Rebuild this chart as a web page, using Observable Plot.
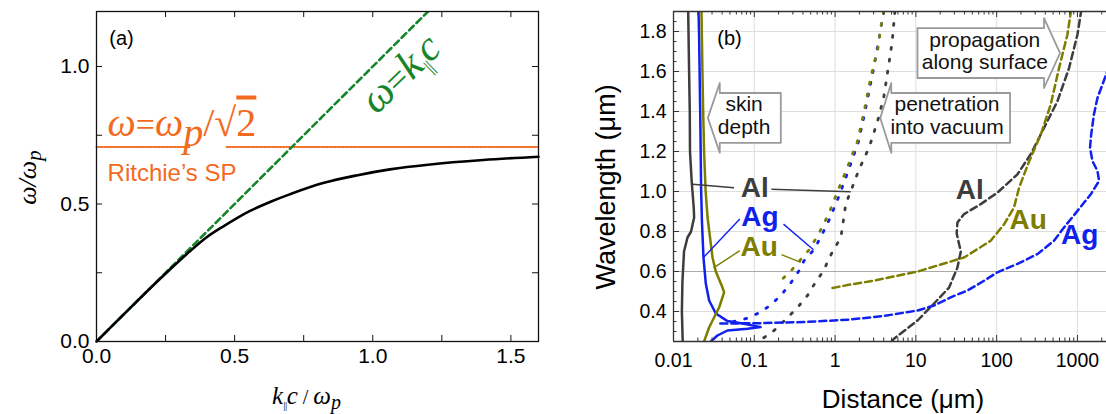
<!DOCTYPE html>
<html><head><meta charset="utf-8">
<script src="https://cdn.jsdelivr.net/npm/d3@7"></script>
<script src="https://cdn.jsdelivr.net/npm/@observablehq/plot@0.6"></script>
<style>
html,body{margin:0;padding:0;background:#fff;}
#wrap{display:flex;width:1106px;height:414px;overflow:hidden;}
</style></head><body><div id="wrap"></div>
<script>
// ---------- Panel (a) data ----------
const kAxisLabels = [0, 0.5, 1.0, 1.5];
const wAxisLabels = [0, 0.5, 1.0];
const kTicks = [0, 0.25, 0.5, 0.75, 1.0, 1.25, 1.5];
const wTicks = [0, 0.25, 0.5, 0.75, 1.0];
const spK = [0, 0.1, 0.2, 0.264, 0.337, 0.40, 0.458, 0.554, 0.63, 0.699, 0.82, 0.941, 1.062, 1.2, 1.4, 1.6];
const spW = [0, 0.1, 0.199, 0.26, 0.327, 0.38, 0.418, 0.474, 0.508, 0.535, 0.576, 0.604, 0.626, 0.643, 0.66, 0.672];
const lightK = [0, 1.2];
const lightW = [0, 1.2];
const ritchieLevel = 0.7071;
const ritchieSegStart = [0, 0.471];
const ritchieSegEnd = [0.337, 1.6];

// ---------- Panel (b) data ----------
const distLabels = [0.01, 0.1, 1, 10, 100, 1000];
const wlLabels = [0.4, 0.6, 0.8, 1.0, 1.2, 1.4, 1.6, 1.8];
const wlMinor = [0.25,0.3,0.35,0.45,0.5,0.55,0.65,0.7,0.75,0.85,0.9,0.95,1.05,1.1,1.15,1.25,1.3,1.35,1.45,1.5,1.55,1.65,1.7,1.75,1.85,1.9];
const metals = ["Al", "Ag", "Au"];
const metalColors = ["#3d3d3d", "#1020ee", "#7d7d00"];

// skin depth (solid)
const alSkinX = [0.0152, 0.0156, 0.0159, 0.016, 0.0168, 0.0178, 0.018, 0.0165, 0.0149, 0.0135, 0.0129, 0.0127, 0.013];
const alSkinY = [1.9, 1.6, 1.4, 1.2, 1.05, 0.92, 0.87, 0.8, 0.77, 0.7, 0.55, 0.4, 0.25];
const agSkinX = [0.0204, 0.0207, 0.0214, 0.022, 0.0225, 0.0235, 0.0251, 0.0276, 0.0334, 0.0466, 0.0748, 0.12, 0.0824, 0.0466, 0.035, 0.029];
const agSkinY = [1.9, 1.8, 1.4, 1.0, 0.85, 0.67, 0.54, 0.455, 0.39, 0.352, 0.339, 0.322, 0.314, 0.305, 0.28, 0.25];
const auSkinX = [0.0222, 0.0228, 0.0233, 0.0239, 0.025, 0.0264, 0.0304, 0.0334, 0.0404, 0.0423, 0.0367, 0.0318, 0.0276, 0.0239];
const auSkinY = [1.9, 1.6, 1.4, 1.2, 1.0, 0.87, 0.67, 0.6, 0.52, 0.496, 0.42, 0.37, 0.32, 0.25];

// penetration into vacuum (dotted)
const alVacX = [5.5, 5.1, 4.6, 4.0, 3.35, 2.64, 1.98, 1.56, 1.36, 1.18, 0.93, 0.71, 0.56, 0.455, 0.343, 0.25, 0.176, 0.126, 0.115];
const alVacY = [1.9, 1.75, 1.63, 1.47, 1.35, 1.22, 1.11, 1.0, 0.94, 0.77, 0.7, 0.6, 0.54, 0.48, 0.42, 0.364, 0.305, 0.264, 0.25];
const agVacX = [4.0, 3.45, 2.95, 2.35, 1.95, 1.45, 1.1, 0.85, 0.66, 0.55, 0.413, 0.358, 0.28, 0.209, 0.152, 0.11, 0.0785, 0.055];
const agVacY = [1.9, 1.75, 1.6, 1.4, 1.25, 1.1, 0.97, 0.86, 0.77, 0.71, 0.654, 0.604, 0.54, 0.476, 0.426, 0.39, 0.364, 0.35];
const auVacX = [4.0, 3.68, 3.35, 2.99, 2.64, 2.29, 1.89, 1.42, 1.07, 0.84, 0.63, 0.48, 0.28, 0.194];
const auVacY = [1.9, 1.82, 1.70, 1.63, 1.53, 1.40, 1.25, 1.12, 1.0, 0.89, 0.79, 0.71, 0.6, 0.54];

// propagation along surface (dashed)
const alPropX = [5.0, 5.4, 10.5, 16.8, 25.8, 32.7, 36, 32, 32.7, 39.5, 63.6, 102, 181, 264, 386, 565, 787, 1000, 1110];
const alPropY = [0.25, 0.265, 0.355, 0.44, 0.52, 0.62, 0.70, 0.79, 0.845, 0.887, 0.937, 0.994, 1.086, 1.186, 1.318, 1.451, 1.617, 1.784, 1.9];
const agPropX = [0.038, 0.1, 0.455, 1.56, 4.05, 10.5, 16.8, 27, 43.5, 70, 102, 181, 320, 513, 682, 1000, 1462, 1854, 1770, 1535, 1432, 1480, 1600, 1770, 2040, 2600];
const agPropY = [0.34, 0.341, 0.348, 0.36, 0.378, 0.405, 0.43, 0.471, 0.505, 0.554, 0.596, 0.638, 0.687, 0.754, 0.82, 0.903, 0.986, 1.053, 1.103, 1.152, 1.219, 1.285, 1.385, 1.468, 1.535, 1.65];
const auPropX = [0.93, 1.56, 3.0, 10.5, 39.5, 84.5, 124, 164, 190, 252, 352, 467, 592, 751, 830];
const auPropY = [0.518, 0.535, 0.554, 0.6, 0.67, 0.754, 0.837, 0.92, 1.02, 1.15, 1.285, 1.435, 1.617, 1.784, 1.9];

// metal labels
const labelNames = ["Al", "Ag", "Au", "Al", "Au", "Ag"];
const labelX = [0.1015, 0.1176, 0.115, 46.5, 246, 1067];
const labelY = [1.019, 0.87, 0.72, 1.007, 0.857, 0.783];
// pointer lines
const pointerMetal = ["Al", "Al", "Ag", "Ag", "Au", "Au"];
const pointerX1 = [0.0172, 0.163, 0.0662, 0.23, 0.0662, 0.217];
const pointerY1 = [1.036, 1.011, 0.862, 0.837, 0.704, 0.684];
const pointerX2 = [0.0562, 1.56, 0.0235, 0.54, 0.0313, 0.376];
const pointerY2 = [1.019, 0.999, 0.67, 0.709, 0.618, 0.646];
// annotation arrows
const arrowText = ["skin\ndepth", "penetration\ninto vacuum", "propagation\nalong surface"];
const arrowTextX = [0.0748, 24.3, 71.3];
const arrowTextY = [1.38, 1.38, 1.7044];
const arrowTip = [0.0266, 3.626, 609];
const arrowNeck = [0.0374, 4.962, 386.1];
const arrowTail = [0.213, 146.6, 10.47];
const arrowMid = [1.368, 1.368, 1.692];
const arrowHeadHalf = [0.1745, 0.1745, 0.1745];
const arrowBodyHalf = [0.1245, 0.1245, 0.1245];

// ---------- helpers ----------
const NS = "http://www.w3.org/2000/svg";
const SANS = "'Liberation Sans', Arial, Helvetica, sans-serif";
const SERIF = "'Liberation Serif', 'Times New Roman', 'DejaVu Serif', serif";
function richText(svg, original, parts) {
  svg.querySelectorAll("text").forEach(t => {
    if (t.textContent !== original) return;
    t.textContent = "";
    let cur = 0;
    for (const [s, it, dy = 0, sz = 1, deco, ls] of parts) {
      const ts = document.createElementNS(NS, "tspan");
      ts.textContent = s;
      ts.setAttribute("font-style", it ? "italic" : "normal");
      if (sz !== 1) ts.setAttribute("font-size", `${sz}em`);
      if (dy !== cur) { ts.setAttribute("dy", dy - cur); cur = dy; }
      if (deco) ts.setAttribute("text-decoration", deco);
      if (ls) ts.setAttribute("letter-spacing", ls);
      t.appendChild(ts);
    }
  });
}
const zipXY = (xs, ys, extra) => xs.map((x, i) => ({x, y: ys[i], ...extra}));

// ---------- Panel (a) ----------
const aW = 560, H = 414, aML = 96, aMR = 22, aMT = 11, aMB = 73;
const aPH = H - aMT - aMB, aPW = aW - aML - aMR;
const spData = zipXY(spK, spW);
const lightData = zipXY(lightK, lightW);
const ritchieData = ritchieSegStart.flatMap((s, i) => [{x: s, y: ritchieLevel, seg: i}, {x: ritchieSegEnd[i], y: ritchieLevel, seg: i}]);
const orange = "#f26a1e", green = "#16852a";
const spLabel = "ω=ωp/√2", lightLabel = "ω=k||c", xLabelA = "k||c/ωp", yLabelA = "ω/ωp";

const plotA = Plot.plot({
  width: aW, height: H, marginLeft: aML, marginRight: aMR, marginTop: aMT, marginBottom: aMB,
  x: {domain: [0, 1.6], axis: null}, y: {domain: [0, 1.2], axis: null},
  style: {fontFamily: SANS, fontSize: "21px", color: "#000", background: "#fff", overflow: "visible"},
  marks: [
    Plot.line(ritchieData, {x: "x", y: "y", z: "seg", stroke: orange, strokeWidth: 2, strokeDasharray: "1 1.7"}),
    Plot.line(lightData, {x: "x", y: "y", stroke: green, strokeWidth: 2.6, strokeDasharray: "6.5 4", clip: true}),
    Plot.line(spData, {x: "x", y: "y", stroke: "#000", strokeWidth: 2.6, curve: "catmull-rom"}),
    Plot.frame({stroke: "#111", strokeWidth: 1.3}),
    Plot.tickX(kTicks, {x: d => d, insetTop: aPH - 6, stroke: "#111"}),
    Plot.tickX(kTicks, {x: d => d, insetBottom: aPH - 6, stroke: "#111"}),
    Plot.tickY(wTicks, {y: d => d, insetRight: aPW - 6, stroke: "#111"}),
    Plot.tickY(wTicks, {y: d => d, insetLeft: aPW - 6, stroke: "#111"}),
    Plot.axisX(kAxisLabels, {tickSize: 0, tickPadding: 7, tickFormat: d => d.toFixed(1), label: null, fontSize: 21}),
    Plot.axisY(wAxisLabels, {tickSize: 0, tickPadding: 7, tickFormat: d => d.toFixed(1), label: null, fontSize: 21}),
    Plot.text(["(a)"], {frameAnchor: "top-left", dx: 25, dy: 27, fontSize: 20, textAnchor: "middle", lineAnchor: "middle"}),
    Plot.text([spLabel], {x: 0.04, y: 0.749, textAnchor: "start", lineAnchor: "bottom", fontSize: 40, fontFamily: SERIF, fill: orange}),
    Plot.text(["Ritchie’s SP"], {x: 0.04, y: 0.582, textAnchor: "start", lineAnchor: "bottom", fontSize: 24, fill: orange}),
    Plot.text([lightLabel], {x: 1.10, y: 0.975, rotate: -44, textAnchor: "middle", lineAnchor: "middle", fontSize: 42, fontFamily: SERIF, fill: green}),
    Plot.text([xLabelA], {frameAnchor: "bottom", dx: -11, dy: 62, lineAnchor: "bottom", textAnchor: "middle", fontSize: 25, fontFamily: SERIF}),
    Plot.text([yLabelA], {frameAnchor: "left", y: 0.596, dx: -61, rotate: -90, lineAnchor: "bottom", textAnchor: "middle", fontSize: 26, fontFamily: SERIF})
  ]
});
richText(plotA, spLabel, [["ω",1],["=",0,0,0.85],["ω",1],["p",1,10],["/",0,0],["√",0],["2",0,0,1,"overline"]]);
richText(plotA, lightLabel, [["ω",1],["=",0,0,0.85],["k",1],["||",0,8,0.45,null,"-1"],["c",1]]);
richText(plotA, xLabelA, [["k",1],["||",0,5,0.45,null,"-0.5"],["c",1],[" / ",0,0,0.8],["ω",1],["p",1,5,0.8]]);
richText(plotA, yLabelA, [["ω",1],["/",1],["ω",1],["p",1,5,0.8]]);

// ---------- Panel (b) ----------
const bW = 546, bML = 113, bMR = 0, bMT = 11, bMB = 73;
const bPH = H - bMT - bMB, bPW = bW - bML - bMR;
const xMaxB = 2290;
const skin = [...zipXY(alSkinX, alSkinY, {m: "Al"}), ...zipXY(agSkinX, agSkinY, {m: "Ag"}), ...zipXY(auSkinX, auSkinY, {m: "Au"})];
const vac = [...zipXY(alVacX, alVacY, {m: "Al"}), ...zipXY(agVacX, agVacY, {m: "Ag"}), ...zipXY(auVacX, auVacY, {m: "Au"})];
const prop = [...zipXY(alPropX, alPropY, {m: "Al"}), ...zipXY(agPropX, agPropY, {m: "Ag"}), ...zipXY(auPropX, auPropY, {m: "Au"})];
const labels = labelNames.map((m, i) => ({m, x: labelX[i], y: labelY[i]}));
const pointers = pointerMetal.map((m, i) => ({m, x1: pointerX1[i], y1: pointerY1[i], x2: pointerX2[i], y2: pointerY2[i]}));
const arrowPoly = arrowText.flatMap((t, i) => {
  const c = arrowMid[i], h = arrowHeadHalf[i], b = arrowBodyHalf[i];
  const pts = [[arrowTip[i], c], [arrowNeck[i], c + h], [arrowNeck[i], c + b], [arrowTail[i], c + b],
               [arrowTail[i], c - b], [arrowNeck[i], c - b], [arrowNeck[i], c - h], [arrowTip[i], c]];
  return pts.map(([x, y]) => ({x, y, a: i}));
});
const arrowLabels = arrowText.map((t, i) => ({t, x: arrowTextX[i], y: arrowTextY[i]}));
const minorX = [];
for (let e = -2; e <= 3; e++) for (let k = 2; k <= 9; k++) { const v = k * 10 ** e; if (v < xMaxB) minorX.push(+v.toPrecision(3)); }

const plotB = Plot.plot({
  width: bW, height: H, marginLeft: bML, marginRight: bMR, marginTop: bMT, marginBottom: bMB,
  x: {type: "log", domain: [0.01, xMaxB], axis: null},
  y: {domain: [0.25, 1.9], axis: null},
  color: {domain: metals, range: metalColors},
  style: {fontFamily: SANS, fontSize: "19px", color: "#000", background: "#fff", overflow: "visible"},
  marks: [
    Plot.ruleX(distLabels.slice(1), {stroke: "#dedede", strokeWidth: 1}),
    Plot.ruleY(wlLabels, {stroke: d => d === 0.6 ? "#aaaaaa" : "#dedede", strokeWidth: 1}),
    Plot.line(arrowPoly, {x: "x", y: "y", z: "a", fill: "#fff", stroke: "#9a9a9a", strokeWidth: 1.8}),
    Plot.text(arrowLabels, {x: "x", y: "y", text: "t", fontSize: 21, lineHeight: 1.08, textAnchor: "middle", lineAnchor: "middle", fill: "#111"}),
    Plot.line(skin, {x: "x", y: "y", z: "m", stroke: "m", strokeWidth: 2.5, clip: true}),
    Plot.line(vac, {x: "x", y: "y", z: "m", stroke: "m", strokeWidth: 2.8, strokeDasharray: "2 10", clip: true}),
    Plot.line(prop, {x: "x", y: "y", z: "m", stroke: "m", strokeWidth: 2.5, strokeDasharray: "7 4", clip: true}),
    Plot.link(pointers, {x1: "x1", y1: "y1", x2: "x2", y2: "y2", stroke: "m", strokeWidth: 1.4}),
    Plot.text(labels, {x: "x", y: "y", text: "m", fill: "m", fontSize: 28, fontWeight: "bold", textAnchor: "middle", lineAnchor: "middle"}),
    Plot.ruleX([0.01], {stroke: "#333", strokeWidth: 1.3}),
    Plot.ruleY([0.25, 1.9], {stroke: "#333", strokeWidth: 1.3}),
    Plot.tickX(distLabels, {x: d => d, insetTop: bPH - 6, stroke: "#333"}),
    Plot.tickX(minorX, {x: d => d, insetTop: bPH - 3.5, stroke: "#333"}),
    Plot.tickX(distLabels, {x: d => d, insetBottom: bPH - 6, stroke: "#333"}),
    Plot.tickX(minorX, {x: d => d, insetBottom: bPH - 3.5, stroke: "#333"}),
    Plot.tickY(wlLabels, {y: d => d, insetRight: bPW - 6, stroke: "#333"}),
    Plot.tickY(wlMinor, {y: d => d, insetRight: bPW - 3.5, stroke: "#333"}),
    Plot.axisX(distLabels, {tickSize: 0, tickPadding: 12, tickFormat: d => String(d), label: null, fontSize: 19.5}),
    Plot.axisY(wlLabels, {tickSize: 0, tickPadding: 7, tickFormat: d => d.toFixed(1), label: null, fontSize: 19.5}),
    Plot.text(["(b)"], {frameAnchor: "top-left", dx: 56, dy: 27, fontSize: 20, textAnchor: "middle", lineAnchor: "middle"}),
    Plot.text(["Distance (μm)"], {frameAnchor: "bottom", dx: 13, dy: 66, lineAnchor: "bottom", textAnchor: "middle", fontSize: 26}),
    Plot.text(["Wavelength (μm)"], {frameAnchor: "left", y: 1.023, dx: -59, rotate: -90, lineAnchor: "bottom", textAnchor: "middle", fontSize: 27})
  ]
});

const wrap = document.getElementById("wrap");
wrap.appendChild(plotA);
wrap.appendChild(plotB);
</script></body></html>
